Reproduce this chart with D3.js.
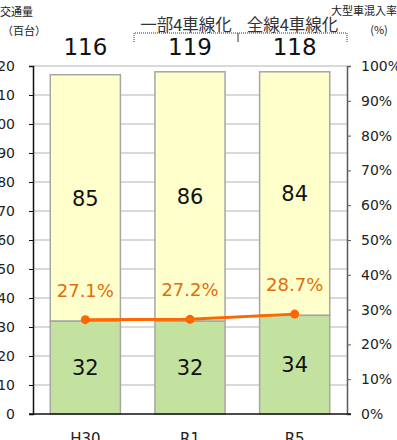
<!DOCTYPE html>
<html>
<head>
<meta charset="utf-8">
<script src="https://cdn.jsdelivr.net/npm/d3@7"></script>
<style>
  body { margin: 0; background: #fff; }
  svg text { font-family: "DejaVu Sans", Verdana, sans-serif; }
  .jp { font-family: "Noto Sans CJK JP", sans-serif; }
</style>
</head>
<body>
<div id="chart"></div>
<script>
var years = ["H30", "R1", "R5"];
var large = [32, 32, 34];
var small = [85, 86, 84];
var totals = [116, 119, 118];
var rate = [27.1, 27.2, 28.7];
var leftTicks = d3.range(0, 121, 10);
var rightTicks = d3.range(0, 101, 10);

var width = 397, height = 440;
var plotLeft = 33, plotRight = 347, plotTop = 66, plotBottom = 414;

var svg = d3.select("#chart").append("svg")
    .attr("width", width)
    .attr("height", height);

var x = d3.scaleBand().domain(years).range([plotLeft, plotRight])
    .paddingInner(0.33).paddingOuter(0.165);
var y = d3.scaleLinear().domain([0, 120]).range([plotBottom, plotTop]);
var y2 = d3.scaleLinear().domain([0, 100]).range([plotBottom, plotTop]);

// grid
svg.append("g").selectAll("line")
    .data(leftTicks.slice(1))
    .enter().append("line")
    .attr("x1", plotLeft).attr("x2", plotRight)
    .attr("y1", d => y(d)).attr("y2", d => y(d))
    .attr("stroke", "#d9d9d9").attr("stroke-width", 2);

// bars
var item = svg.append("g").selectAll("g")
    .data(years)
    .enter().append("g");

item.append("rect")
    .attr("x", d => x(d))
    .attr("width", x.bandwidth())
    .attr("y", (d, i) => y(large[i] + small[i]))
    .attr("height", (d, i) => y(large[i]) - y(large[i] + small[i]))
    .attr("fill", "#ffffcc").attr("stroke", "#a6a6a6").attr("stroke-width", 1.5);

item.append("rect")
    .attr("x", d => x(d))
    .attr("width", x.bandwidth())
    .attr("y", (d, i) => y(large[i]))
    .attr("height", (d, i) => y(0) - y(large[i]))
    .attr("fill", "#c4e29f").attr("stroke", "#a6a6a6").attr("stroke-width", 1.5);

item.append("text")
    .attr("x", d => x(d) + x.bandwidth() / 2)
    .attr("y", (d, i) => y(large[i] + small[i] / 2))
    .attr("dy", "0.36em")
    .attr("text-anchor", "middle")
    .style("font-size", "21px").attr("fill", "#111")
    .text((d, i) => small[i]);

item.append("text")
    .attr("x", d => x(d) + x.bandwidth() / 2)
    .attr("y", (d, i) => y(large[i] / 2))
    .attr("dy", "0.36em")
    .attr("text-anchor", "middle")
    .style("font-size", "21px").attr("fill", "#111")
    .text((d, i) => large[i]);

item.append("text")
    .attr("x", d => x(d) + x.bandwidth() / 2)
    .attr("y", 55)
    .attr("text-anchor", "middle")
    .style("font-size", "23px").attr("fill", "#111")
    .text((d, i) => totals[i]);

// axes
var axL = svg.append("g")
    .attr("transform", "translate(" + plotLeft + ",0)")
    .call(d3.axisLeft(y).tickValues(leftTicks).tickSize(4).tickPadding(14));
axL.select(".domain").attr("stroke", "#111").attr("stroke-width", 1.5);
axL.selectAll(".tick line").attr("stroke", "#111");
axL.selectAll("text").style("font-size", "14px").attr("fill", "#222");

var axR = svg.append("g")
    .attr("transform", "translate(" + plotRight + ",0)")
    .call(d3.axisRight(y2).tickValues(rightTicks).tickSize(4).tickPadding(10).tickFormat(d => d + "%"));
axR.select(".domain").attr("stroke", "#595959").attr("stroke-width", 1.5);
axR.selectAll(".tick line").attr("stroke", "#595959");
axR.selectAll("text").style("font-size", "14px").attr("fill", "#222");

svg.append("line")
    .attr("x1", plotLeft - 4).attr("x2", plotRight + 4)
    .attr("y1", plotBottom).attr("y2", plotBottom)
    .attr("stroke", "#111").attr("stroke-width", 1.5);

var axB = svg.append("g")
    .attr("transform", "translate(0," + plotBottom + ")")
    .call(d3.axisBottom(x).tickSize(0).tickPadding(19));
axB.select(".domain").remove();
axB.selectAll("text").style("font-size", "15px").attr("fill", "#222");

// rate line
var line = d3.line()
    .x((d, i) => x(years[i]) + x.bandwidth() / 2)
    .y(d => y2(d));

svg.append("path")
    .datum(rate)
    .attr("d", line)
    .attr("fill", "none").attr("stroke", "#ff6600").attr("stroke-width", 3);

svg.append("g").selectAll("circle")
    .data(rate)
    .enter().append("circle")
    .attr("cx", (d, i) => x(years[i]) + x.bandwidth() / 2)
    .attr("cy", d => y2(d))
    .attr("r", 4.5)
    .attr("fill", "#ff6600");

svg.append("g").selectAll("text")
    .data(rate)
    .enter().append("text")
    .attr("x", (d, i) => x(years[i]) + x.bandwidth() / 2)
    .attr("y", d => y2(d) - 23)
    .attr("text-anchor", "middle")
    .style("font-size", "18px").attr("fill", "#e46c0a")
    .text(d => d.toFixed(1) + "%");

// header texts
svg.append("text").attr("class", "jp")
    .attr("x", 0).attr("y", 16)
    .style("font-size", "11px").attr("fill", "#222").text("交通量");
svg.append("text").attr("class", "jp")
    .attr("x", 2).attr("y", 35)
    .style("font-size", "11px").attr("fill", "#222").text("（百台）");
svg.append("text").attr("class", "jp")
    .attr("x", 364).attr("y", 15).attr("text-anchor", "middle")
    .style("font-size", "11px").attr("fill", "#222").text("大型車混入率");
svg.append("text").attr("class", "jp")
    .attr("x", 379).attr("y", 34).attr("text-anchor", "middle")
    .style("font-size", "11px").attr("fill", "#222").text("(%)");

var sections = [["一部4車線化", 134, 238], ["全線4車線化", 238, 347]];
sections.forEach(function(s) {
    svg.append("text").attr("class", "jp")
        .attr("x", (s[1] + s[2]) / 2).attr("y", 31).attr("text-anchor", "middle")
        .style("font-size", "16.5px").attr("fill", "#333").text(s[0]);
    svg.append("path")
        .attr("d", "M" + s[1] + ",42V33H" + s[2] + "V42")
        .attr("fill", "none").attr("stroke", "#333").attr("stroke-width", 1)
        .attr("stroke-dasharray", "1,1");
});
</script>
</body>
</html>
